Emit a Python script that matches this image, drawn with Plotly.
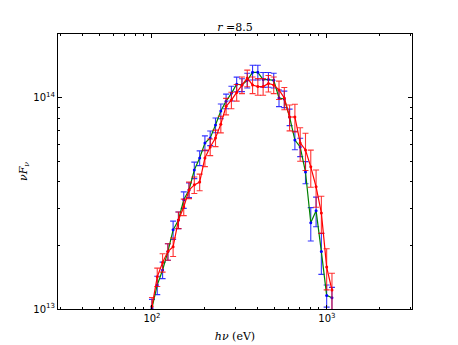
"""nuF_nu spectrum at r = 8.5, two simulated runs with error bars."""

import plotly.graph_objects as go

# photon energy bins (eV), shared by both series
energy = [100, 107.2, 115.0, 123.3, 132.1, 141.7, 151.9, 162.8, 174.6, 187.3,
          200.7, 215.2, 230.7, 247.4, 265.2, 284.4, 304.8, 326.8, 350.4, 375.7,
          402.7, 431.8, 462.9, 496.4, 532.1, 570.6, 611.6, 655.8, 703.1, 754.0,
          808.2, 866.8, 929.0, 996.1, 1068]

flux_blue = [1.01e13, 1.30e13, 1.53e13, 1.87e13, 2.37e13, 2.64e13, 3.29e13, 3.66e13,
             4.55e13, 5.19e13, 6.11e13, 6.45e13, 7.43e13, 8.65e13, 9.64e13, 1.05e14,
             1.16e14, 1.15e14, 1.21e14, 1.32e14, 1.32e14, 1.22e14, 1.22e14, 1.21e14,
             9.98e13, 9.87e13, 8.11e13, 6.31e13, 5.85e13, 4.45e13, 2.56e13, 2.92e13,
             1.87e13, 1.16e13, 1.13e13]
rel_err_blue = [0.10, 0.10, 0.09, 0.09, 0.10, 0.09, 0.09, 0.08, 0.09, 0.08,
                0.08, 0.08, 0.08, 0.08, 0.08, 0.08, 0.08, 0.07, 0.08, 0.08,
                0.08, 0.08, 0.08, 0.08, 0.09, 0.09, 0.09, 0.10, 0.10, 0.12,
                0.18, 0.16, 0.22, 0.12, 0.12]

flux_red = [1.03e13, 1.42e13, 1.66e13, 1.87e13, 1.97e13, 2.64e13, 3.04e13, 3.66e13,
            3.87e13, 3.99e13, 5.19e13, 5.85e13, 6.45e13, 7.50e13, 9.12e13, 9.75e13,
            1.06e14, 1.15e14, 1.24e14, 1.15e14, 1.13e14, 1.13e14, 1.17e14, 1.15e14,
            1.09e14, 9.98e13, 8.11e13, 8.11e13, 6.11e13, 5.66e13, 4.71e13, 3.79e13,
            2.85e13, 1.58e13, 1.23e13]
rel_err_red = [0.10, 0.10, 0.10, 0.09, 0.10, 0.09, 0.09, 0.09, 0.09, 0.09,
               0.09, 0.09, 0.09, 0.09, 0.09, 0.09, 0.09, 0.09, 0.09, 0.09,
               0.09, 0.09, 0.09, 0.09, 0.10, 0.12, 0.14, 0.15, 0.18, 0.20,
               0.20, 0.20, 0.20, 0.22, 0.20]

x_major = [100, 1000]
x_minor = [30, 40, 50, 60, 70, 80, 90, 200, 300, 400, 500, 600, 700, 800, 900, 2000, 3000]
y_major = [1e13, 1e14]
y_minor = [2e13, 3e13, 4e13, 5e13, 6e13, 7e13, 8e13, 9e13, 2e14]

SERIF = "DejaVu Serif"

fig = go.Figure()
fig.add_trace(
    go.Scatter(
        x=energy,
        y=flux_blue,
        mode="lines+markers",
        line=dict(color="#008000", width=1.2),
        marker=dict(color="#0000ff", size=3),
        error_y=dict(
            type="data",
            array=[f * e for f, e in zip(flux_blue, rel_err_blue)],
            color="rgba(0,0,255,0.8)",
            thickness=1.1,
            width=3,
        ),
    )
)
fig.add_trace(
    go.Scatter(
        x=energy,
        y=flux_red,
        mode="lines+markers",
        line=dict(color="#ff0000", width=1.2),
        marker=dict(color="#ff0000", size=3),
        error_y=dict(
            type="data",
            array=[f * e for f, e in zip(flux_red, rel_err_red)],
            color="rgba(255,0,0,0.8)",
            thickness=1.1,
            width=3,
        ),
    )
)

axis_common = dict(
    type="log",
    automargin=False,
    showline=True,
    linecolor="black",
    linewidth=1,
    mirror="allticks",
    ticks="inside",
    ticklen=4,
    tickcolor="black",
    showgrid=False,
    zeroline=False,
    tickmode="array",
    tickfont=dict(family="DejaVu Sans", size=10, color="black"),
)

fig.update_xaxes(
    **axis_common,
    range=[1.463, 3.486],
    tickvals=x_major,
    ticktext=["10<sup>2</sup>", "10<sup>3</sup>"],
    minor=dict(tickmode="array", tickvals=x_minor, ticks="inside", ticklen=2, tickcolor="black"),
    title=dict(text="<i>hν</i> (eV)", font=dict(family=SERIF, size=11, color="black"), standoff=9),
)
fig.update_yaxes(
    **axis_common,
    range=[13.0, 14.302],
    tickvals=y_major,
    ticktext=["10<sup>13</sup>", "10<sup>14</sup>"],
    minor=dict(tickmode="array", tickvals=y_minor, ticks="inside", ticklen=2, tickcolor="black"),
    title=dict(text="<i>νF<sub>ν</sub></i>", font=dict(family=SERIF, size=11, color="black"), standoff=3),
)

# the page adds an 8px body margin, so the margins here are shifted by 8px
fig.update_layout(
    width=458,
    height=345,
    margin=dict(l=50, r=54, t=26, b=44),
    paper_bgcolor="white",
    plot_bgcolor="white",
    showlegend=False,
    title=dict(
        text="<i>r</i> =8.5",
        x=(50 + 404) / 2 / 458,
        xanchor="center",
        y=1 - 19 / 345,
        yanchor="middle",
        font=dict(family=SERIF, size=11, color="black"),
    ),
)

fig.write_html("out.html")
